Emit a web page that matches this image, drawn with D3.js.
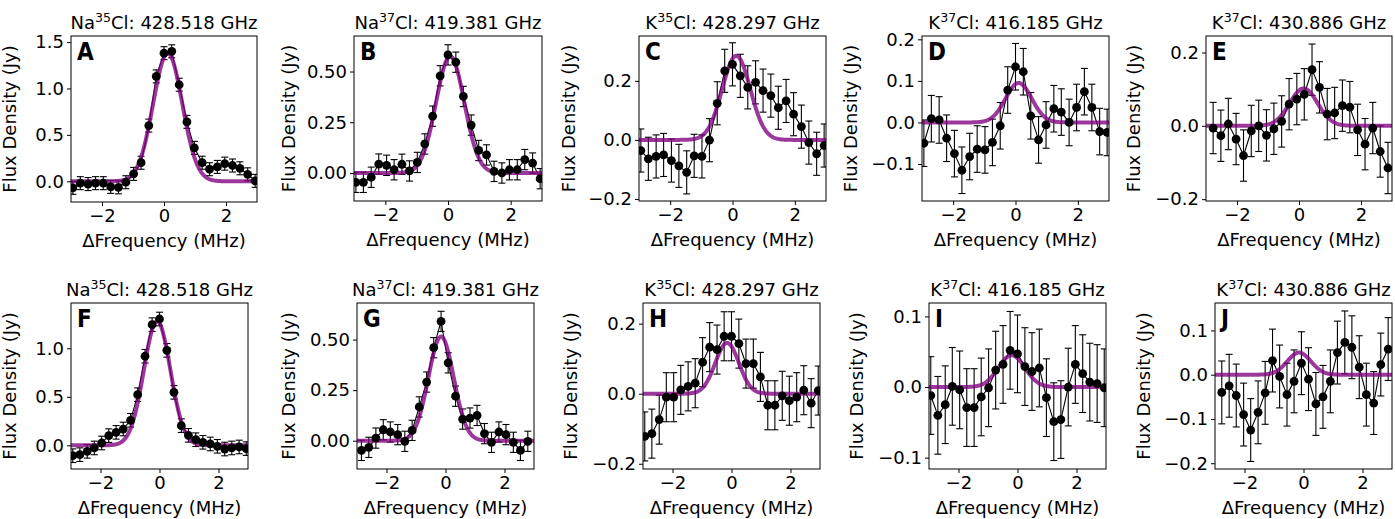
<!DOCTYPE html>
<html><head><meta charset="utf-8">
<script src="https://cdn.jsdelivr.net/npm/d3@7"></script>
<style>
body{margin:0;background:#fff;}
svg text{font-family:"DejaVu Sans",sans-serif;fill:#000;}
</style>
</head><body>
<svg id="chart" width="1395" height="519"></svg>
<script>
// ---------------- DATA ----------------
const panelLetters = ["A","B","C","D","E","F","G","H","I","J"];
const molecules = ["Na","Na","K","K","K","Na","Na","K","K","K"];
const isotopes = ["35","37","35","37","37","35","37","35","37","37"];
const restFreqs = ["428.518 GHz","419.381 GHz","428.297 GHz","416.185 GHz","430.886 GHz",
                   "428.518 GHz","419.381 GHz","428.297 GHz","416.185 GHz","430.886 GHz"];

// channel offsets (MHz)
const chan25 = [-2.94,-2.70,-2.45,-2.21,-1.96,-1.72,-1.47,-1.23,-0.98,-0.74,-0.49,-0.25,0.00,
                0.25,0.49,0.74,0.98,1.23,1.47,1.72,1.96,2.21,2.45,2.70,2.94];
const chanK37b = [-2.77,-2.52,-2.28,-2.03,-1.79,-1.54,-1.30,-1.05,-0.81,-0.56,-0.32,-0.07,
                  0.17,0.42,0.66,0.91,1.15,1.40,1.64,1.89,2.13,2.38,2.62,2.87];
const chanNa37 = [-2.85,-2.60,-2.36,-2.11,-1.87,-1.62,-1.38,-1.13,-0.89,-0.64,-0.40,-0.15,
                  0.09,0.34,0.58,0.83,1.07,1.32,1.56,1.81,2.05,2.30,2.54,2.79];

// flux densities (Jy)
const fluxA = [-0.07,-0.02,-0.03,-0.02,-0.02,-0.06,-0.065,-0.01,0.08,0.20,0.60,1.13,1.38,
               1.40,1.04,0.64,0.36,0.20,0.13,0.155,0.19,0.17,0.14,0.075,0.005];
const fluxB = [-0.046,-0.046,-0.021,0.044,0.038,0.016,0.043,0.010,0.052,0.143,0.280,0.479,0.582,
               0.546,0.377,0.236,0.111,0.089,0.008,0.000,0.016,0.016,0.066,0.049,-0.028];
const fluxC = [-0.036,-0.064,-0.056,-0.051,-0.070,-0.088,-0.110,-0.054,-0.056,-0.001,0.124,0.234,0.256,
               0.217,0.178,0.195,0.167,0.150,0.109,0.132,0.087,0.045,-0.009,-0.047,-0.019];
const fluxD = [-0.050,0.009,0.006,-0.038,-0.075,-0.115,-0.082,-0.064,-0.066,-0.048,-0.008,0.078,0.134,
               0.122,0.016,-0.042,-0.006,0.033,0.025,0.000,0.036,0.074,0.036,-0.022,-0.024];
const fluxE = [-0.006,-0.027,0.005,-0.036,-0.081,-0.014,0.000,-0.026,-0.008,0.012,0.059,0.073,
               0.086,0.153,0.105,0.032,0.035,0.055,0.051,-0.011,-0.050,-0.006,-0.070,-0.115];
const fluxF = [-0.107,-0.096,-0.062,-0.027,0.024,0.100,0.134,0.168,0.258,0.522,0.918,1.244,1.302,
               0.979,0.546,0.203,0.103,0.058,0.031,0.014,-0.010,-0.038,-0.027,-0.017,-0.034];
const fluxG = [-0.048,-0.033,0.013,0.054,0.043,0.030,-0.003,0.051,0.167,0.290,0.460,0.590,
               0.385,0.220,0.107,0.112,0.125,0.035,-0.008,0.043,0.030,-0.008,-0.048,-0.003];
const fluxH = [-0.122,-0.114,-0.074,-0.010,-0.010,0.011,0.021,0.030,0.090,0.133,0.126,0.164,0.164,
               0.143,0.086,0.086,0.048,-0.033,-0.033,-0.006,-0.020,-0.010,0.010,-0.027,0.009];
const fluxI = [-0.012,-0.040,-0.025,0.001,-0.004,-0.029,-0.029,-0.014,-0.001,0.024,0.032,0.052,0.047,
               0.029,0.022,0.027,-0.015,-0.049,-0.046,0.000,0.032,0.019,0.007,0.005,-0.001];
const fluxJ = [-0.040,-0.025,-0.047,-0.090,-0.125,-0.085,-0.041,0.032,-0.004,-0.045,-0.015,0.026,
               -0.010,-0.066,-0.050,-0.015,0.050,0.073,0.062,0.017,-0.045,-0.064,0.023,0.058];

// 1-sigma uncertainty per panel (Jy)
const fluxErr = [0.07,0.05,0.073,0.056,0.07,0.07,0.05,0.07,0.055,0.071];

// Gaussian fit parameters per panel
const fitAmp    = [1.38,0.575,0.285,0.095,0.102,1.28,0.515,0.145,0.045,0.05];
const fitCenter = [0.12,0.07,0.12,0.10,0.15,-0.08,-0.15,-0.15,-0.20,-0.15];
const fitSigma  = [0.47,0.45,0.45,0.42,0.45,0.45,0.43,0.40,0.45,0.40];

// axis ranges and ticks
const xTicks = [-2,0,2];
const xRange = [-3,3];
const yRanges = [[-0.223,1.565],[-0.138,0.675],[-0.207,0.352],[-0.189,0.208],[-0.205,0.245],
                 [-0.244,1.467],[-0.140,0.681],[-0.215,0.259],[-0.116,0.119],[-0.213,0.162]];
const yTicks = [[0,0.5,1.0,1.5],[0,0.25,0.5],[-0.2,0,0.2],[-0.1,0,0.1,0.2],[-0.2,0,0.2],
                [0,0.5,1.0],[0,0.25,0.5],[-0.2,0,0.2],[-0.1,0,0.1],[-0.2,-0.1,0,0.1]];
const yTickFormats = [".1f",".2f",".1f",".1f",".1f",".1f",".2f",".1f",".1f",".1f"];

const channels = [chan25,chan25,chan25,chan25,chanK37b,chan25,chanNa37,chan25,chan25,chanK37b];
const fluxes = [fluxA,fluxB,fluxC,fluxD,fluxE,fluxF,fluxG,fluxH,fluxI,fluxJ];

// ---------------- LAYOUT ----------------
const boxes = [
  [71,257,36,202],[354,542,36,201],[639,826,36,201],[922,1109,36,201],[1206,1392,36,201],
  [71,248,303,469],[357,534,303,469],[643,820,303,469],[929,1106,303,469],[1215,1392,303,469]
];
const yLabelOffsets = [61,65,70,71,72,61,68,72,72,71];
const FS = 18;
const fitColor = "#800080";

const svg = d3.select("#chart");

panelLetters.forEach((letter, p) => {
  const [x0,x1,y0,y1] = boxes[p];
  const x = d3.scaleLinear().domain(xRange).range([x0,x1]);
  const y = d3.scaleLinear().domain(yRanges[p]).range([y1,y0]);
  const g = svg.append("g");

  const clipId = "clip" + p;
  svg.append("clipPath").attr("id", clipId).append("rect")
    .attr("x", x0).attr("y", y0).attr("width", x1-x0).attr("height", y1-y0);

  const pts = channels[p].map((c,i) => ({x:c, y:fluxes[p][i], e:fluxErr[p]}));
  const plot = g.append("g").attr("clip-path", `url(#${clipId})`);

  // error bars
  const eb = plot.append("g").attr("stroke","#000").attr("stroke-width",1.1);
  pts.forEach(d => {
    const xx = x(d.x), ya = y(d.y + d.e), yb = y(d.y - d.e);
    eb.append("line").attr("x1",xx).attr("x2",xx).attr("y1",ya).attr("y2",yb);
    eb.append("line").attr("x1",xx-3.5).attr("x2",xx+3.5).attr("y1",ya).attr("y2",ya);
    eb.append("line").attr("x1",xx-3.5).attr("x2",xx+3.5).attr("y1",yb).attr("y2",yb);
  });

  // connecting line
  plot.append("path").datum(pts)
    .attr("fill","none").attr("stroke","#000").attr("stroke-width",1.1)
    .attr("d", d3.line().x(d=>x(d.x)).y(d=>y(d.y)));

  // gaussian fit
  const fx = d3.range(0, 301).map(i => xRange[0] + (xRange[1]-xRange[0]) * i / 300);
  const fit = fx.map(v => ({x:v, y: fitAmp[p]*Math.exp(-((v-fitCenter[p])**2)/(2*fitSigma[p]**2))}));
  plot.append("path").datum(fit)
    .attr("fill","none").attr("stroke",fitColor).attr("stroke-opacity",0.78)
    .attr("stroke-width",4).attr("stroke-linejoin","round")
    .attr("d", d3.line().x(d=>x(d.x)).y(d=>y(d.y)));

  // markers
  plot.append("g").selectAll("circle").data(pts).join("circle")
    .attr("cx", d=>x(d.x)).attr("cy", d=>y(d.y)).attr("r", 4.4).attr("fill","#000");

  // axes
  const xAxis = d3.axisBottom(x).tickValues(xTicks).tickSize(4).tickPadding(3)
    .tickFormat(d3.format("d"));
  const gx = g.append("g").attr("transform",`translate(0,${y1})`).call(xAxis);
  gx.select(".domain").remove();
  gx.selectAll("text").attr("font-size",FS).attr("font-family","DejaVu Sans").attr("fill","#000");
  gx.selectAll("line").attr("stroke","#000");

  const yAxis = d3.axisLeft(y).tickValues(yTicks[p]).tickSize(4).tickPadding(3)
    .tickFormat(d3.format(yTickFormats[p]));
  const gy = g.append("g").attr("transform",`translate(${x0},0)`).call(yAxis);
  gy.select(".domain").remove();
  gy.selectAll("text").attr("font-size",FS).attr("font-family","DejaVu Sans").attr("fill","#000");
  gy.selectAll("line").attr("stroke","#000");

  // frame
  g.append("rect").attr("x",x0).attr("y",y0).attr("width",x1-x0).attr("height",y1-y0)
    .attr("fill","none").attr("stroke","#000").attr("stroke-width",1);

  // panel letter
  g.append("text").attr("x", x0+6).attr("y", y0+24)
    .style("font-family","'Liberation Sans Narrow','DejaVu Sans Condensed',sans-serif")
    .style("font-weight","bold").attr("font-size",24).text(letter);

  // title
  const t = g.append("text").attr("x",(x0+x1)/2).attr("y",y0-7)
    .attr("text-anchor","middle").attr("font-size",FS);
  t.append("tspan").text(molecules[p]);
  t.append("tspan").attr("font-size",FS*0.7).attr("dy",-7).text(isotopes[p]);
  t.append("tspan").attr("dy",7).text("Cl: " + restFreqs[p]);

  // x label
  g.append("text").attr("x",(x0+x1)/2).attr("y",y1+45)
    .attr("text-anchor","middle").attr("font-size",FS).text("ΔFrequency (MHz)");

  // y label
  g.append("text")
    .attr("transform",`translate(${x0 - yLabelOffsets[p]},${(y0+y1)/2}) rotate(-90)`)
    .attr("text-anchor","middle").attr("dy","0.35em").attr("font-size",FS)
    .text("Flux Density (Jy)");
});
</script>
</body></html>
